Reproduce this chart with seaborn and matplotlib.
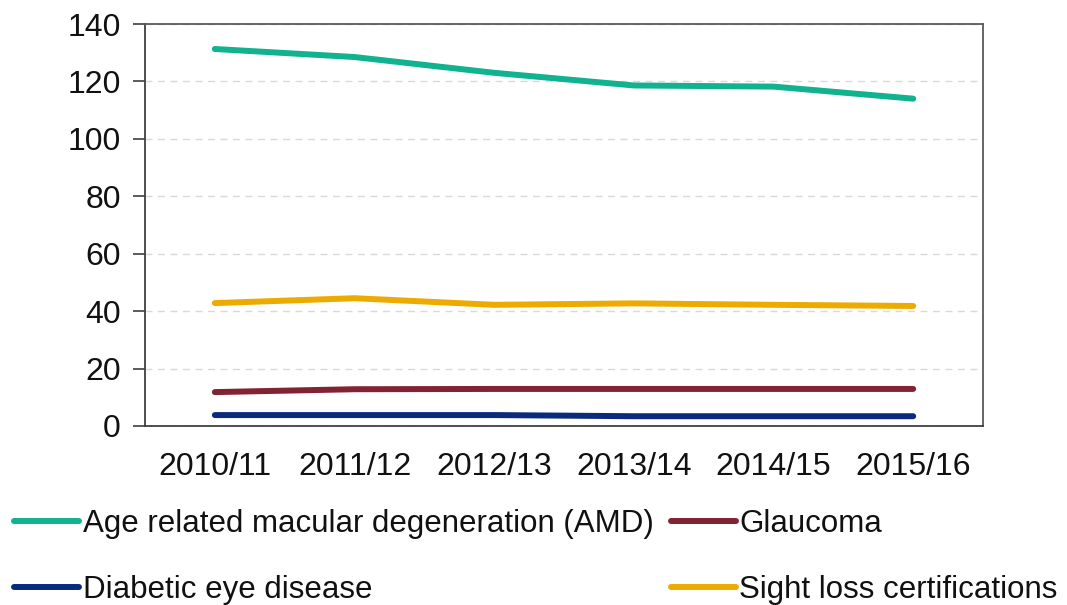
import numpy as np
import pandas as pd
import matplotlib.pyplot as plt
from matplotlib.ticker import FixedLocator, MultipleLocator
import seaborn as sns

# years on the x axis
years = ["2010/11", "2011/12", "2012/13", "2013/14", "2014/15", "2015/16"]

# rates per 100,000
amd = [131.3, 128.5, 123.0, 118.6, 118.2, 114.0]
glaucoma = [11.8, 12.8, 12.9, 12.9, 12.9, 12.9]
diabetic = [3.8, 3.8, 3.8, 3.4, 3.4, 3.4]
sight_loss = [42.8, 44.5, 42.2, 42.7, 42.2, 41.8]

series_names = ["Age related macular degeneration (AMD)", "Diabetic eye disease",
                "Glaucoma", "Sight loss certifications"]
series_values = [amd, diabetic, glaucoma, sight_loss]
colours = ["#10B28F", "#0A2A7C", "#822232", "#EDAB00"]

df = pd.DataFrame({
    "year": years * len(series_names),
    "rate": np.concatenate(series_values),
    "condition": np.repeat(series_names, len(years)),
})

sns.set_style("white")
plt.rcParams['font.family'] = ['Liberation Sans', 'DejaVu Sans']

fig = plt.figure(figsize=(10.67, 6.05), dpi=100)
ax = fig.add_axes([0.1359, 0.2959, 0.7854, 0.6644])

sns.lineplot(data=df, x="year", y="rate", hue="condition", hue_order=series_names,
             palette=dict(zip(series_names, colours)), linewidth=4.3,
             solid_capstyle="round", sort=False, ax=ax, legend=False)

ax.set_xlim(-0.5, len(years) - 0.5)
ax.set_ylim(0, 140)
ax.yaxis.set_major_locator(MultipleLocator(20))
ax.set_xlabel("")
ax.set_ylabel("")

# gridlines
ax.grid(axis="y", linestyle=(0, (5, 4)), color="#D9D9D9", linewidth=1)
ax.set_axisbelow(True)

# tick marks between categories
ax.xaxis.set_minor_locator(FixedLocator(np.arange(-0.5, len(years), 1)))
ax.tick_params(axis="x", which="major", length=0, labelsize=23, pad=19, colors="#111111")
ax.tick_params(axis="x", which="minor", length=8.5, width=1.2, direction="out", color="#404040")
ax.tick_params(axis="y", which="major", length=8.5, width=1.2, direction="out", color="#404040",
               labelsize=23, pad=9, labelcolor="#111111")
ax.tick_params(axis="both", bottom=True, left=True)

for side in ["left", "bottom"]:
    ax.spines[side].set_color("#404040")
    ax.spines[side].set_linewidth(1.3)
for side in ["top", "right"]:
    ax.spines[side].set_color("#595959")
    ax.spines[side].set_linewidth(1.3)

handles = [plt.Line2D([], [], color=c, linewidth=4.3, solid_capstyle="round") for c in colours]
fig.legend(handles, series_names, ncol=2, loc="upper left", bbox_to_anchor=(0.013, 0.158),
           frameon=False, fontsize=22.5, handlelength=2.1, handletextpad=0.1,
           columnspacing=0.55, labelspacing=1.15, borderpad=0, borderaxespad=0,
           labelcolor="#111111")

fig.savefig("out.png", dpi=100)
